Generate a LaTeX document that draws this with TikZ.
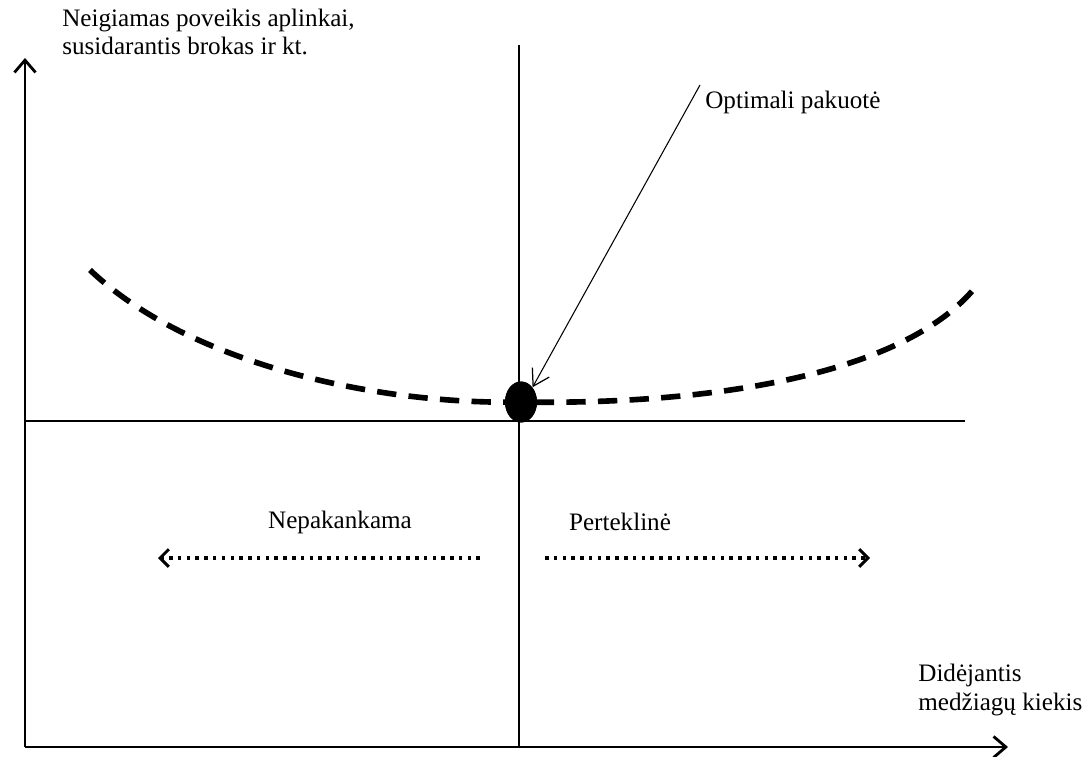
\documentclass[tikz,border=0pt]{standalone}
\usepackage{fontspec}
\setmainfont{Liberation Serif}
\usetikzlibrary{arrows.meta,shapes.geometric,positioning}

\tikzset{
    axis/.style={line width=1.6pt, -{Straight Barb[length=7pt,width=12pt,line width=1.6pt]}},
    guide/.style={line width=0.8pt},
    curve/.style={line width=3.2pt, dash pattern=on 11pt off 7pt},
    trend/.style={line width=2pt, dash pattern=on 2pt off 3pt,
        -{Straight Barb[length=5pt,width=10pt,line width=1.7pt]}},
    pointer/.style={line width=0.6pt, -{Straight Barb[length=9pt,width=11pt,line width=0.7pt]}},
    lbl/.style={font=\fontsize{14.3}{16}\selectfont, inner sep=0pt, align=left}
}

\begin{document}
\begin{tikzpicture}[x=0.02cm, y=-0.02cm]
    \useasboundingbox (0,0) rectangle (1089,757);
    % axes
    \coordinate (O) at (25,747);
    \coordinate (ytip) at (25,58);
    \coordinate (xtip) at (1008,747);
    \draw[axis] (O)--(ytip);
    \draw[axis] (O)--(xtip);
    % cross lines
    \coordinate (vtop) at (519,45);
    \coordinate (vbot) at (519,747);
    \coordinate (hleft) at (25,421);
    \coordinate (hright) at (965,421);
    \draw[guide] (vbot)--(vtop);
    \draw[guide] (hleft)--(hright);
    % curve and optimum
    \coordinate (cleft) at (90,270);
    \coordinate (cright) at (978,284);
    \node[ellipse, fill, inner sep=0pt, minimum width=0.64cm, minimum height=0.82cm]
        (opt) at (521,402) {};
    \draw[curve] (cleft) .. controls (190,365) and (380,405) .. (opt.center)
        .. controls (700,405) and (905,378) .. (cright);
    \fill (opt.center) ellipse (16 and 20.5);
    % labels
    \node[lbl, anchor=west] (ylbl) at (62,32)
        {Neigiamas poveikis aplinkai,\\susidarantis brokas ir kt.};
    \node[lbl, anchor=west] (xlbl) at (918,690)
        {Didėjantis\\medžiagų kiekis};
    \node[lbl, anchor=west] (optlbl) at (705,102) {Optimali pakuotė};
    \coordinate (optstart) at (700,85);
    \draw[pointer] (optstart)--(opt.north east);
    % directions
    \coordinate (lstart) at (480,558);
    \coordinate (lend) at (158,558);
    \coordinate (rstart) at (545,558);
    \coordinate (rend) at (870,558);
    \draw[trend] (lstart)--(lend);
    \draw[trend] (rstart)--(rend);
    \node[lbl] (less) at (340,522) {Nepakankama};
    \node[lbl] (more) at (620,522) {Perteklinė};
\end{tikzpicture}
\end{document}
